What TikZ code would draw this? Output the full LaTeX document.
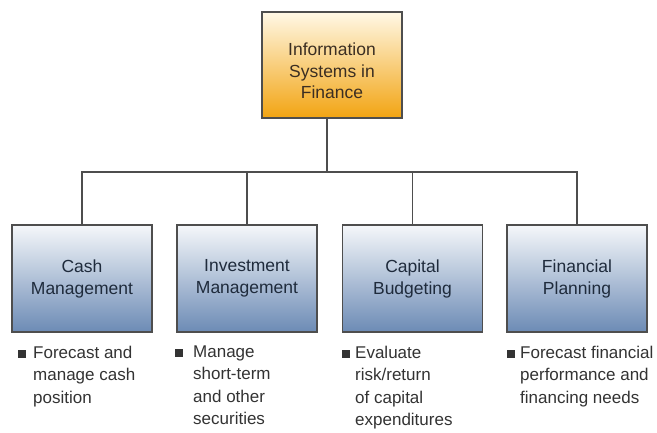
\documentclass[tikz,border=0pt]{standalone}
\usepackage{fontspec}
\setmainfont{Liberation Sans}
\usepackage{tikz}
\usetikzlibrary{calc}

\definecolor{txtgray}{HTML}{333333}
\definecolor{txtbrown}{HTML}{3B2E22}
\definecolor{txtnavy}{HTML}{1F2B3C}
\definecolor{linegray}{HTML}{4E4E4E}
\definecolor{goldtop}{HTML}{FFF8E6}
\definecolor{goldmid}{HTML}{FBD683}
\definecolor{goldbot}{HTML}{F2A412}
\definecolor{bluetop}{HTML}{F5F7FA}
\definecolor{bluemid}{HTML}{CAD6E4}
\definecolor{bluebot}{HTML}{6C8BB5}

\begin{document}
\begin{tikzpicture}[x=1pt,y=-1pt]
\tikzstyle{top}=[rectangle,draw=linegray,line width=1.2pt,top color=goldtop,middle color=goldmid,bottom color=goldbot,minimum width=140pt,minimum height=106pt]
\tikzstyle{toptext}=[align=center,text=txtbrown,font=\fontsize{17.5}{21.7}\selectfont]
\tikzstyle{area}=[rectangle,draw=linegray,line width=1.2pt,top color=bluetop,middle color=bluemid,bottom color=bluebot,minimum width=140pt,minimum height=107pt,align=center,text=txtnavy,font=\fontsize{17.5}{22}\selectfont]
\tikzstyle{item}=[anchor=north west,inner sep=0pt,align=left,text=txtgray,font=\fontsize{17}{22.5}\selectfont]
\tikzstyle{wire}=[draw=linegray,line width=1.1pt]
\useasboundingbox[fill=white] (0,0) rectangle (657,432);
\node[top] (F_0) at (332,65) {};
\node[toptext] (T_0) at (332,71) {Information\\Systems in\\Finance};
\node[area] (F_1) at (82,278.5) {Cash\\Management};
\node[area] (F_2) at (247,278.5) {Investment\\Management};
\node[area] (F_3) at (412.5,278.5) {Capital\\Budgeting};
\node[area] (F_4) at (577,278.5) {Financial\\Planning};
\coordinate (bus) at (327,172);
\node[item] (N_1) at (33,345.5) {\llap{\rule{8pt}{8pt}\hspace{7pt}}Forecast and\\manage cash\\position};
\node[item] (N_2) at (193,345.5) {\llap{\rule{8pt}{8pt}\hspace{10pt}}Manage\\short-term\\and other\\securities};
\node[item] (N_3) at (355,345.5) {\llap{\rule{8pt}{8pt}\hspace{5pt}}Evaluate\\risk/return\\of capital\\expenditures};
\node[item] (N_4) at (520,345.5) {\llap{\rule{8pt}{8pt}\hspace{5pt}}Forecast financial\\performance and\\financing needs};
\draw[wire] (F_0.south -| bus) -- (bus);
\draw[wire] (F_1.north) |- (bus) -| (F_4.north);
\draw[wire] (F_2.north) -- (F_2.north |- bus);
\draw[wire] (F_3.north) -- (F_3.north |- bus);
\end{tikzpicture}
\end{document}
